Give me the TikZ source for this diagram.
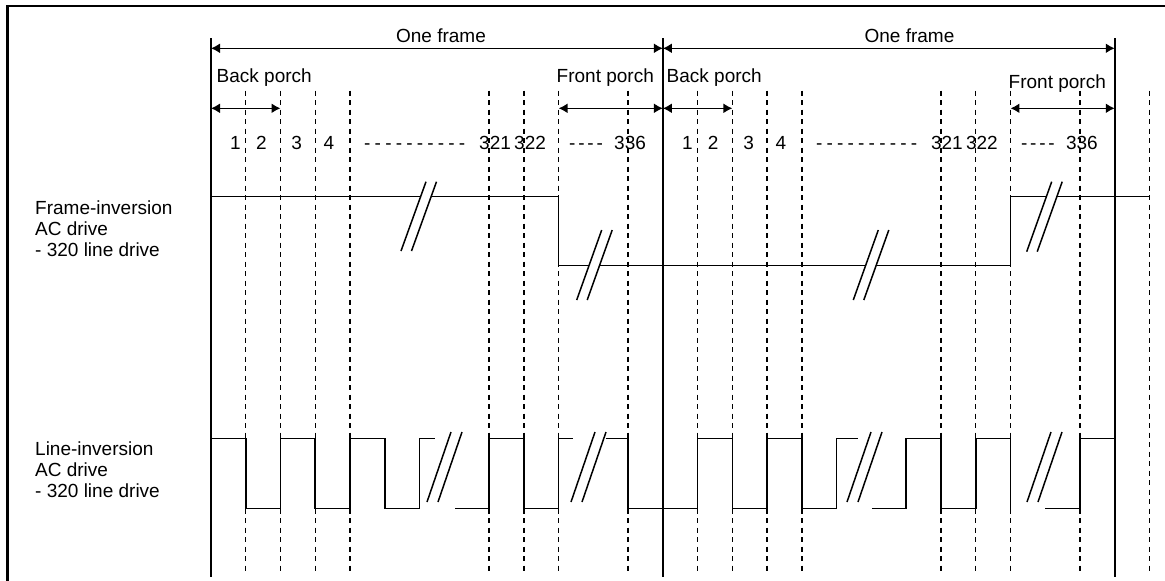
\documentclass[tikz,border=0pt]{standalone}
\usepackage{fontspec}
\setmainfont{Liberation Sans}
\usetikzlibrary{arrows.meta}
\newcommand{\dashlong}{-\kern4.2pt-\kern4.2pt-\kern4.2pt-\kern4.2pt-\kern4.2pt-\kern4.2pt-\kern4.2pt-\kern4.2pt-\kern4.2pt-}
\newcommand{\dashshort}{-\kern2.8pt-\kern2.8pt-\kern2.8pt-}
\begin{document}
\begin{tikzpicture}[x=1pt,y=-1pt,
  wave/.style={line width=1.6pt, line join=miter},
  gridline/.style={line width=1.4pt, dash pattern=on 5pt off 4.5pt},
  frameline/.style={line width=1.6pt},
  dim/.style={line width=1.6pt, {Latex[length=9pt,width=10pt]}-{Latex[length=9pt,width=10pt]}},
  brkline/.style={line width=1.5pt},
  txt/.style={font=\fontsize{19}{21}\selectfont, inner sep=0pt, anchor=base west},
  numc/.style={font=\fontsize{19}{21}\selectfont, inner sep=0pt, anchor=base}]
\def\xo{211}
\def\uu{34.76}
\useasboundingbox (0,0) rectangle (1165,581);
% border
\draw[line width=2.5pt, line join=miter] (7.7,581) -- (7.7,5.8) -- (1165,5.8);
% dashed grid lines
\foreach \k in {1,2,3,4,8,9,10,12,14,15,16,17,21,22,23,25,27}
  \draw[gridline] ({\xo+\k*\uu},90.7) -- ({\xo+\k*\uu},575);
% solid frame lines
\foreach \k in {0,13,26}
  \draw[frameline] ({\xo+\k*\uu},38) -- ({\xo+\k*\uu},577);
% dimension coordinates
\coordinate (fa) at ({\xo},48.3);
\coordinate (fb) at ({\xo+13*\uu},48.3);
\coordinate (fc) at ({\xo+26*\uu},48.3);
\coordinate (bp1a) at ({\xo},108.3);
\coordinate (bp1b) at ({\xo+2*\uu},108.3);
\coordinate (fp1a) at ({\xo+10*\uu},108.3);
\coordinate (fp1b) at ({\xo+13*\uu},108.3);
\coordinate (bp2a) at ({\xo+13*\uu},108.3);
\coordinate (bp2b) at ({\xo+15*\uu},108.3);
\coordinate (fp2a) at ({\xo+23*\uu},108.3);
\coordinate (fp2b) at ({\xo+26*\uu},108.3);
\draw[dim] (fa) -- (fb);
\draw[dim] (fb) -- (fc);
\draw[dim] (bp1a) -- (bp1b);
\draw[dim] (fp1a) -- (fp1b);
\draw[dim] (bp2a) -- (bp2b);
\draw[dim] (fp2a) -- (fp2b);
% top labels
\node[numc] (of1) at (441,42) {One frame};
\node[numc] (of2) at (909.5,42) {One frame};
\node[txt] (bpl1) at (216.5,82) {Back porch};
\node[txt] (fpl1) at (556.5,82) {Front porch};
\node[txt] (bpl2) at (666.5,82) {Back porch};
\node[txt] (fpl2) at (1008.5,88) {Front porch};
% line numbers
\foreach \s/\n in {0/a,451.9/b}{
  \node[numc] (n1\n) at ({235.5+\s},149.5) {1};
  \node[numc] (n2\n) at ({261.3+\s},149.5) {2};
  \node[numc] (n3\n) at ({296.7+\s},149.5) {3};
  \node[numc] (n4\n) at ({329+\s},149.5) {4};
  \node[txt] (dl\n) at ({364+\s},149.5) {\dashlong};
  \node[txt] (n321\n) at ({479+\s},149.5) {321};
  \node[txt] (n322\n) at ({514+\s},149.5) {322};
  \node[txt] (ds\n) at ({569+\s},149.5) {\dashshort};
  \node[txt] (n336\n) at ({614+\s},149.5) {336};
}
% left labels
\node[txt] (fi1) at (35,214) {Frame-inversion};
\node[txt] (fi2) at (35,235) {AC drive};
\node[txt] (fi3) at (35,256) {- 320 line drive};
\node[txt] (li1) at (35,455) {Line-inversion};
\node[txt] (li2) at (35,476) {AC drive};
\node[txt] (li3) at (35,497) {- 320 line drive};
% frame-inversion waveform
\def\FH{196.5}
\def\FL{265.5}
\draw[wave] ({\xo},\FH) -- (420.7,\FH);
\draw[wave] (432.3,\FH) -- ({\xo+10*\uu},\FH) -- ({\xo+10*\uu},\FL) -- (589,\FL);
\draw[wave] (599,\FL) -- (866,\FL);
\draw[wave] (876,\FL) -- ({\xo+23*\uu},\FL) -- ({\xo+23*\uu},\FH) -- (1046.9,\FH);
\draw[wave] (1056.9,\FH) -- ({\xo+27*\uu},\FH);
% break marks (frame inversion)
\foreach \bx/\bt/\bb in {401/181.7/251, 576.7/230/300, 853.3/230/300, 1026.7/181.7/251.7}{
  \draw[brkline] (\bx,\bb) -- ({\bx+25},\bt);
  \draw[brkline] ({\bx+10.5},\bb) -- ({\bx+35.5},\bt);
}
% line-inversion waveform
\def\LH{438.5}
\def\LL{508.5}
\draw[wave] ({\xo},\LH) -- ({\xo+1*\uu},\LH) -- ({\xo+1*\uu},\LL) -- ({\xo+2*\uu},\LL) -- ({\xo+2*\uu},\LH)
  -- ({\xo+3*\uu},\LH) -- ({\xo+3*\uu},\LL) -- ({\xo+4*\uu},\LL) -- ({\xo+4*\uu},\LH)
  -- ({\xo+5*\uu},\LH) -- ({\xo+5*\uu},\LL) -- ({\xo+6*\uu},\LL) -- ({\xo+6*\uu},\LH) -- (434.5,\LH);
\draw[wave] (455,\LL) -- ({\xo+8*\uu},\LL) -- ({\xo+8*\uu},\LH) -- ({\xo+9*\uu},\LH) -- ({\xo+9*\uu},\LL)
  -- ({\xo+10*\uu},\LL) -- ({\xo+10*\uu},\LH) -- (572.8,\LH);
\draw[wave] (605.6,\LH) -- ({\xo+12*\uu},\LH) -- ({\xo+12*\uu},\LL) -- ({\xo+14*\uu},\LL) -- ({\xo+14*\uu},\LH)
  -- ({\xo+15*\uu},\LH) -- ({\xo+15*\uu},\LL) -- ({\xo+16*\uu},\LL) -- ({\xo+16*\uu},\LH)
  -- ({\xo+17*\uu},\LH) -- ({\xo+17*\uu},\LL) -- ({\xo+18*\uu},\LL) -- ({\xo+18*\uu},\LH) -- (858,\LH);
\draw[wave] (871.8,\LL) -- ({\xo+20*\uu},\LL) -- ({\xo+20*\uu},\LH) -- ({\xo+21*\uu},\LH) -- ({\xo+21*\uu},\LL)
  -- ({\xo+22*\uu},\LL) -- ({\xo+22*\uu},\LH) -- ({\xo+23*\uu},\LH) -- ({\xo+23*\uu},\LL);
\draw[wave] (1045,\LL) -- ({\xo+25*\uu},\LL) -- ({\xo+25*\uu},\LH) -- ({\xo+26*\uu},\LH);
% break marks (line inversion)
\foreach \bx in {427, 571, 847, 1027}{
  \draw[brkline] (\bx,502) -- ({\bx+24},432);
  \draw[brkline] ({\bx+11},502) -- ({\bx+35},432);
}
\end{tikzpicture}
\end{document}
